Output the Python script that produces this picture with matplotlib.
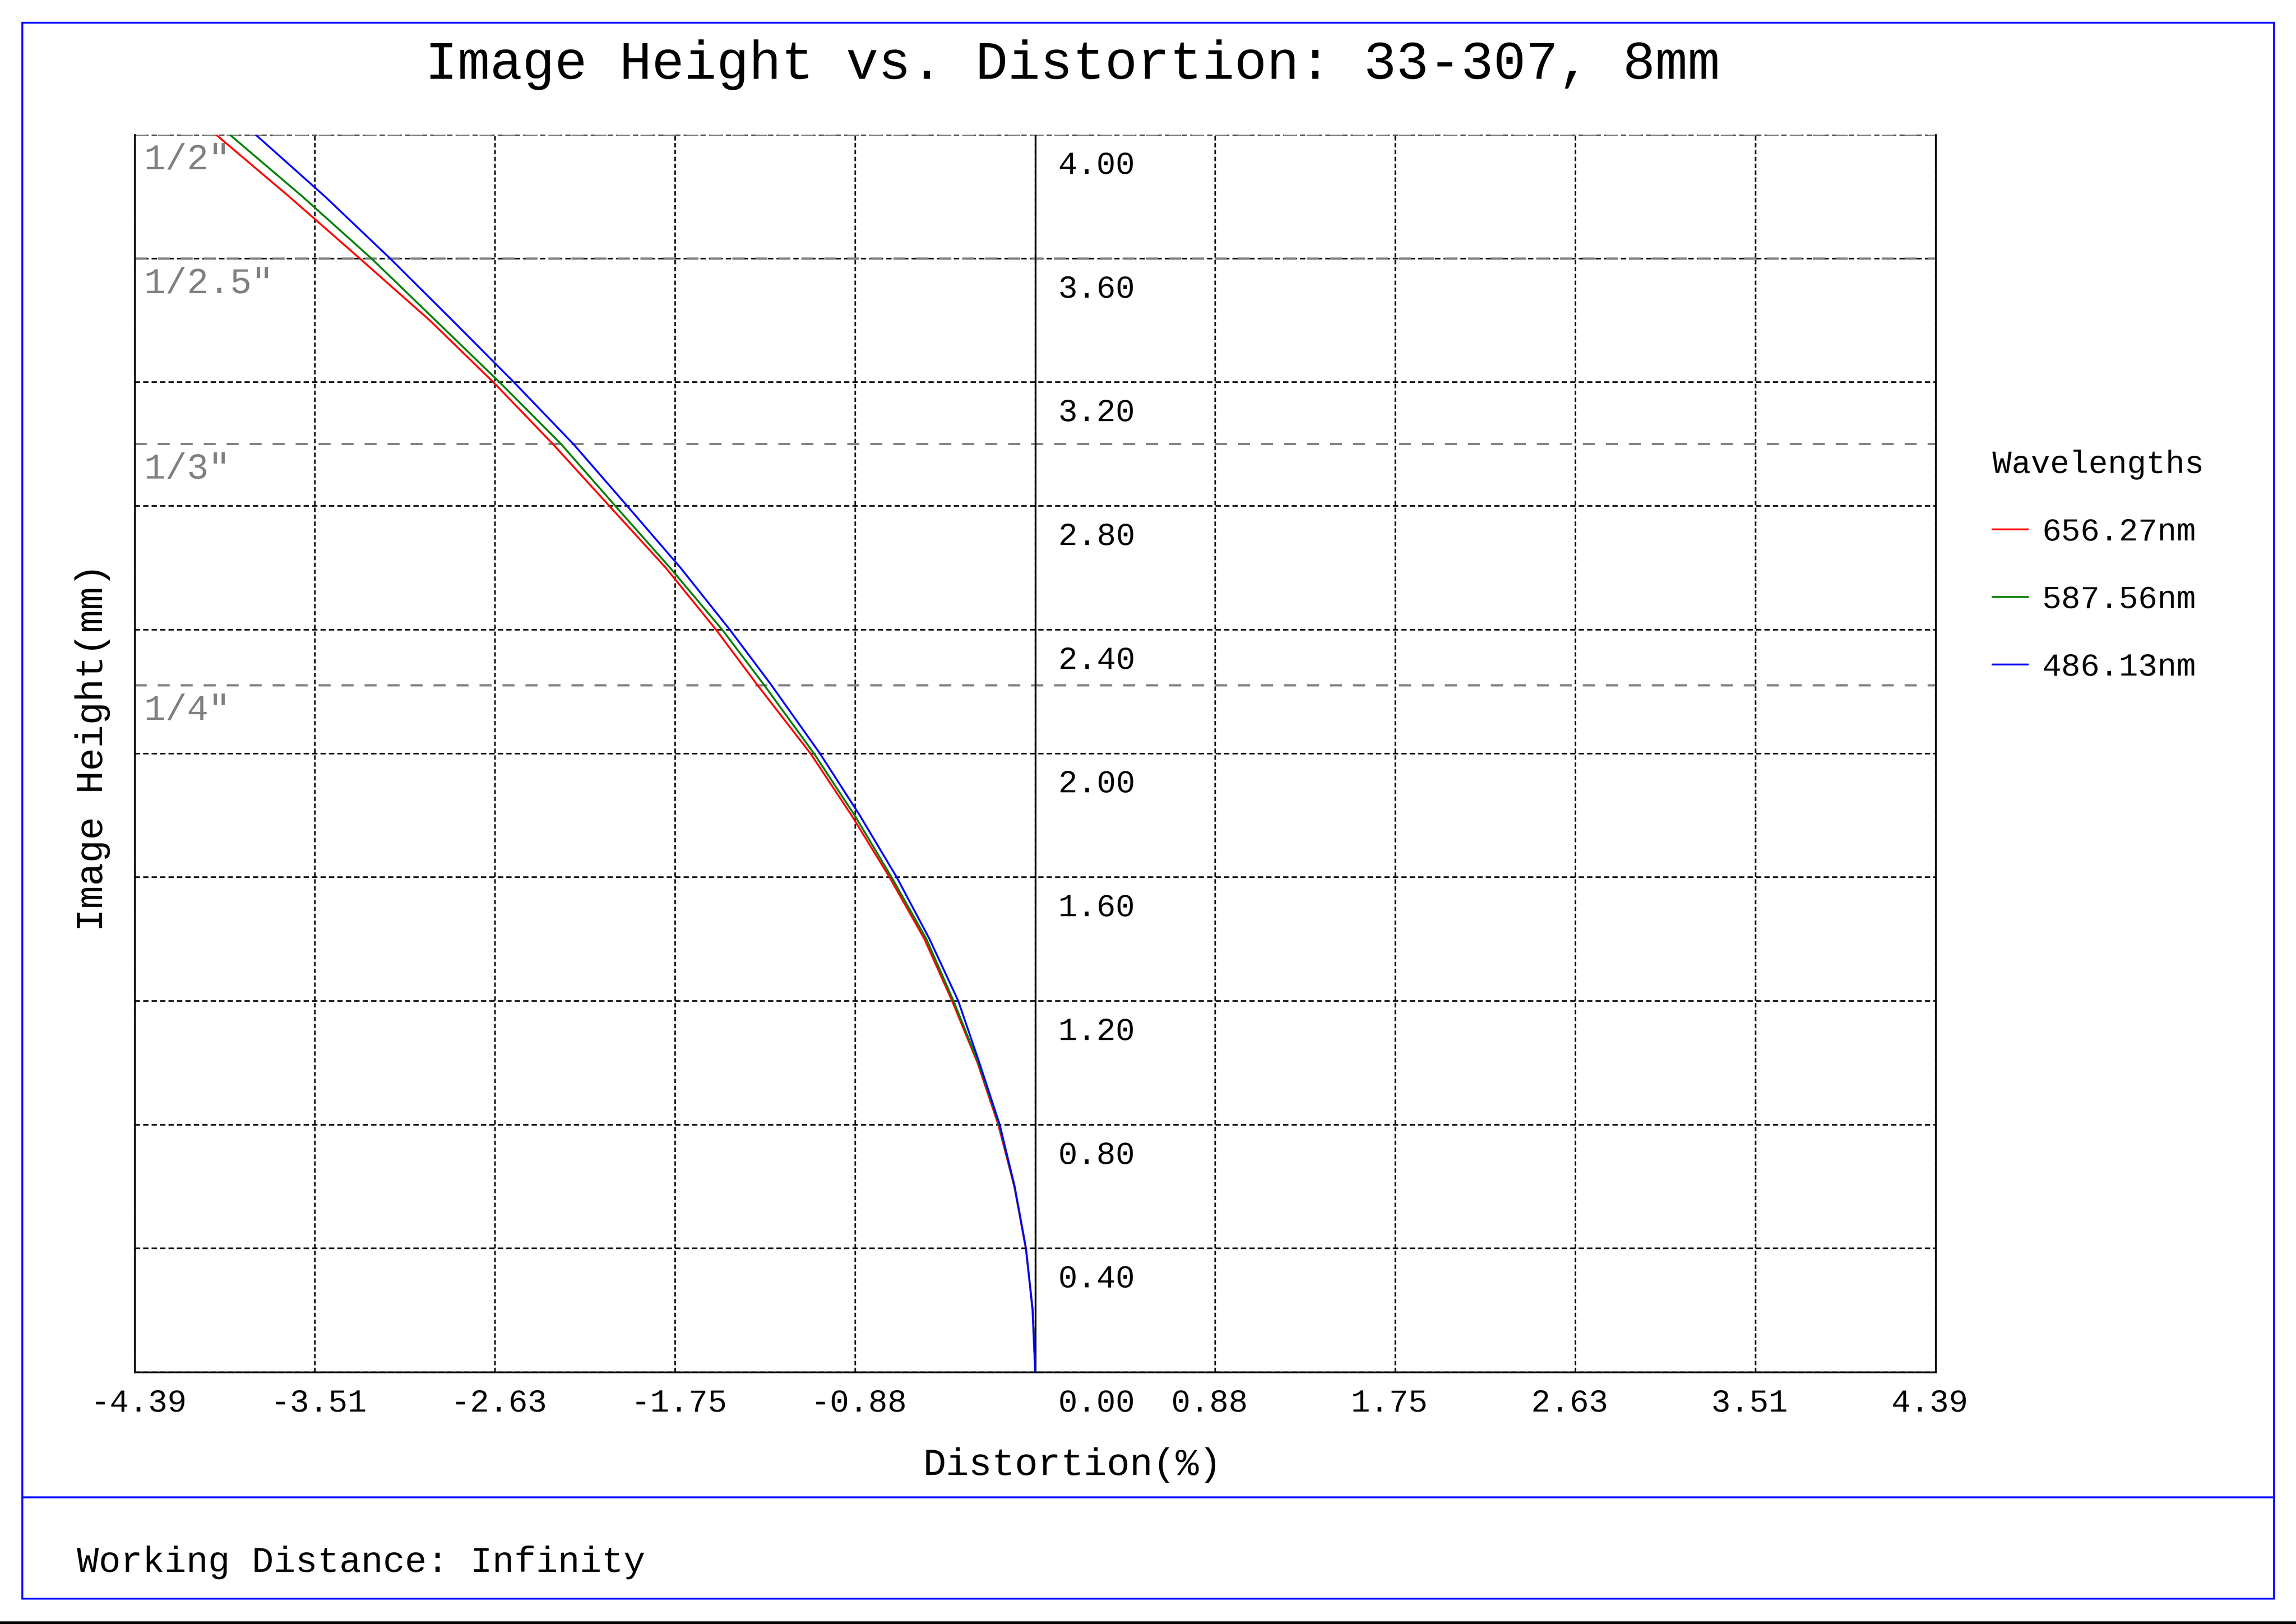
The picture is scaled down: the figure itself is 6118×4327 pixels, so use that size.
import matplotlib
matplotlib.use("Agg")
import matplotlib.pyplot as plt
import matplotlib.transforms as mtransforms
from matplotlib.lines import Line2D
from matplotlib.patches import Rectangle

plt.rcParams['font.family'] = ['Liberation Mono', 'DejaVu Sans Mono']

# image height (mm) and distortion (%) for each wavelength
image_height = [0.0, 0.2, 0.4, 0.6, 0.8, 1.0, 1.2, 1.4, 1.6, 1.8, 2.0, 2.225,
                2.4, 2.6, 2.8, 3.0, 3.2, 3.4, 3.6, 3.8, 4.0]
dist_656 = [0.0, -0.012, -0.046, -0.102, -0.180, -0.281, -0.405, -0.540, -0.710,
            -0.895, -1.095, -1.358, -1.555, -1.800, -2.075, -2.350, -2.640,
            -2.950, -3.291, -3.635, -3.991]
dist_587 = [0.0, -0.012, -0.045, -0.101, -0.176, -0.277, -0.398, -0.530, -0.700,
            -0.880, -1.078, -1.325, -1.525, -1.779, -2.046, -2.310, -2.610,
            -2.922, -3.234, -3.570, -3.924]
dist_486 = [0.0, -0.013, -0.045, -0.100, -0.173, -0.272, -0.375, -0.515, -0.675,
            -0.855, -1.049, -1.290, -1.488, -1.728, -1.988, -2.250, -2.540,
            -2.840, -3.143, -3.460, -3.798]

wavelengths = ['656.27nm', '587.56nm', '486.13nm']
colors = ['#ff0000', '#008000', '#0000ff']

x_ticks = [-4.3875, -3.51, -2.6325, -1.755, -0.8775, 0.0,
           0.8775, 1.755, 2.6325, 3.51, 4.3875]
x_labels = ['-4.39', '-3.51', '-2.63', '-1.75', '-0.88', '0.00',
            '0.88', '1.75', '2.63', '3.51', '4.39']
y_ticks = [0.4, 0.8, 1.2, 1.6, 2.0, 2.4, 2.8, 3.2, 3.6, 4.0]
y_labels = ['0.40', '0.80', '1.20', '1.60', '2.00', '2.40', '2.80', '3.20', '3.60', '4.00']

sensor_names = ['1/4"', '1/3"', '1/2.5"', '1/2"']
sensor_heights = [2.22, 3.0, 3.6, 4.0]

W, H = 6118, 4327
DPI = 300
fig = plt.figure(figsize=(W / DPI, H / DPI), dpi=DPI)
fig.patch.set_facecolor('white')

ax = fig.add_axes([359 / W, (H - 3656) / H, 4799 / W, 3297 / H])
ax.set_xlim(-4.3875, 4.3875)
ax.set_ylim(0, 4.0)

# grid
ax.set_xticks(x_ticks)
ax.set_yticks([0.0] + y_ticks)
ax.tick_params(length=0, labelbottom=False, labelleft=False)
ax.set_axisbelow(True)
ax.xaxis.grid(True, color='black', linewidth=1.0, linestyle=(0, (2.8, 1.6)))
ax.yaxis.grid(True, color='black', linewidth=1.0, linestyle=(0, (3.4, 2.0)))

for side in ['left', 'bottom', 'right']:
    ax.spines[side].set_linewidth(1.1)
    ax.spines[side].set_color('black')
ax.spines['top'].set_visible(False)

ax.axvline(0, color='black', linewidth=1.1, zorder=1.6)

# sensor size lines
for name, h in zip(sensor_names, sensor_heights):
    ax.axhline(h, color='#808080', linewidth=1.4, linestyle=(0, (5.5, 5.0)), zorder=1.5)
    t = mtransforms.offset_copy(ax.transData, fig=fig, x=24, y=-92, units='dots')
    ax.text(-4.3875, h, name, transform=t, ha='left', va='baseline',
            color='#808080', fontsize=23)

# curves
handles = []
for dist, col, lab in zip([dist_656, dist_587, dist_486], colors, wavelengths):
    ln, = ax.plot(dist, image_height, color=col, linewidth=1.2, zorder=3, label=lab)
    handles.append(ln)

# x tick labels
xtrans = mtransforms.blended_transform_factory(ax.transData, ax.transAxes)
for xv, lab in zip(x_ticks, x_labels):
    dx = 61 if xv == 0 else -118
    t = mtransforms.offset_copy(xtrans, fig=fig, x=dx, y=0, units='dots')
    ax.text(xv, -105 / 3297, lab, transform=t, ha='left', va='baseline',
            fontsize=20.5, clip_on=False)

# y tick labels, to the right of the zero line
for yv, lab in zip(y_ticks, y_labels):
    t = mtransforms.offset_copy(ax.transData, fig=fig, x=61, y=-104, units='dots')
    ax.text(0, yv, lab, transform=t, ha='left', va='baseline', fontsize=20.5)

# titles
fig.text(2858 / W, 1 - 210 / H, 'Image Height vs. Distortion: 33-307, 8mm',
         ha='center', va='baseline', fontsize=34.5)
fig.text(2858 / W, 1 - 3930 / H, 'Distortion(%)', ha='center', va='baseline', fontsize=24.5)
fig.text(247 / W, 1 - 1992 / H, 'Image Height(mm)', rotation=90,
         ha='center', va='center', fontsize=24.5)
fig.text(205 / W, 1 - 4188 / H, 'Working Distance: Infinity',
         ha='left', va='baseline', fontsize=23.3)

# legend
fig.legend(handles, wavelengths, title='Wavelengths', loc='upper left',
           bbox_to_anchor=(5309 / W, 1 - 1198 / H), frameon=False,
           fontsize=20.5, title_fontsize=20.5, handlelength=1.1,
           handletextpad=0.45, labelspacing=1.17, borderpad=0,
           borderaxespad=0, alignment='left')

# outer frame and footer separator
fig.add_artist(Rectangle((58.5 / W, 1 - 4259 / H), (6059 - 58.5) / W, (4259 - 60) / H,
                         transform=fig.transFigure, fill=False,
                         edgecolor='#0000ff', linewidth=1.2))
fig.add_artist(Line2D([58.5 / W, 6059 / W], [1 - 3989 / H, 1 - 3989 / H],
                      transform=fig.transFigure, color='#0000ff', linewidth=1.2))
fig.add_artist(Rectangle((0, 0), 1, 7 / H, transform=fig.transFigure,
                         facecolor='black', edgecolor='none'))

fig.savefig('out.png', dpi=DPI)
